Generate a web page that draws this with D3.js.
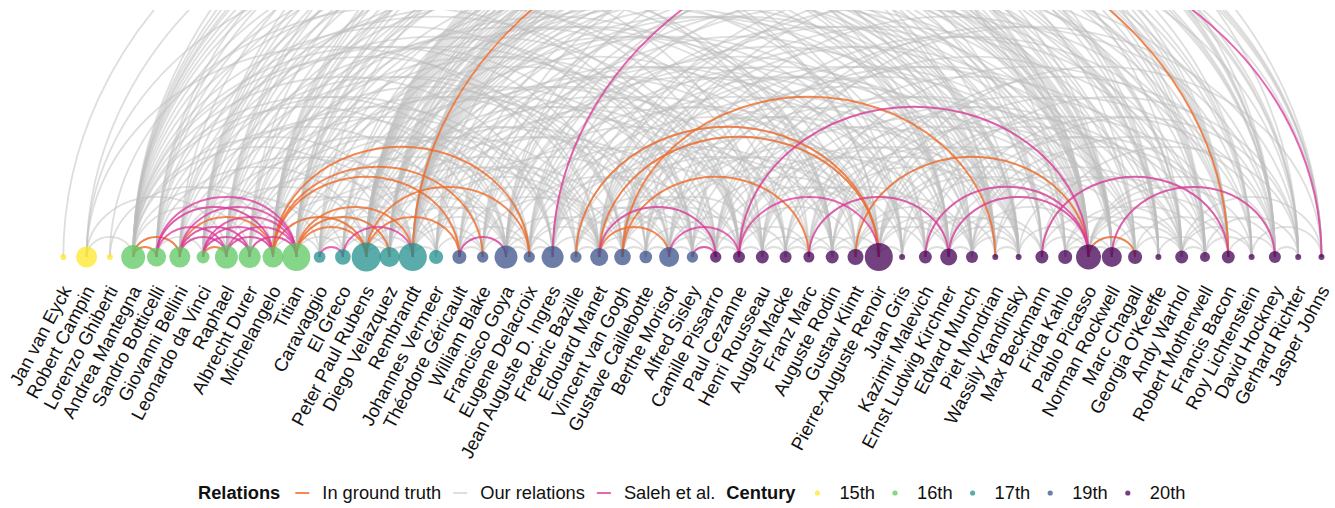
<!DOCTYPE html>
<html>
<head>
<meta charset="utf-8">
<script src="https://cdn.jsdelivr.net/npm/d3@7"></script>
<style>
body { margin: 0; background: #fff; }
text { font-family: "Liberation Sans", Arial, Helvetica, sans-serif; fill: #111; }
</style>
</head>
<body>
<svg id="chart" width="1335" height="508"></svg>
<script>
var artists = ["Jan van Eyck", "Robert Campin", "Lorenzo Ghiberti", "Andrea Mantegna", "Sandro Botticelli",
    "Giovanni Bellini", "Leonardo da Vinci", "Raphael", "Albrecht Durer", "Michelangelo", "Titian",
    "Caravaggio", "El Greco", "Peter Paul Rubens", "Diego Velazquez", "Rembrandt", "Johannes Vermeer",
    "Théodore Géricault", "William Blake", "Francisco Goya", "Eugene Delacroix", "Jean Auguste D. Ingres",
    "Frederic Bazille", "Edouard Manet", "Vincent van Gogh", "Gustave Caillebotte", "Berthe Morisot",
    "Alfred Sisley", "Camille Pissarro", "Paul Cezanne", "Henri Rousseau", "August Macke", "Franz Marc",
    "Auguste Rodin", "Gustav Klimt", "Pierre-Auguste Renoir", "Juan Gris", "Kazimir Malevich",
    "Ernst Ludwig Kirchner", "Edvard Munch", "Piet Mondrian", "Wassily Kandinsky", "Max Beckmann",
    "Frida Kahlo", "Pablo Picasso", "Norman Rockwell", "Marc Chagall", "Georgia O'Keeffe", "Andy Warhol",
    "Robert Motherwell", "Francis Bacon", "Roy Lichtenstein", "David Hockney", "Gerhard Richter", "Jasper Johns"];

var century = ["15th", "15th", "15th",
    "16th", "16th", "16th", "16th", "16th", "16th", "16th", "16th",
    "17th", "17th", "17th", "17th", "17th", "17th",
    "19th", "19th", "19th", "19th", "19th", "19th", "19th", "19th", "19th", "19th", "19th",
    "20th", "20th", "20th", "20th", "20th", "20th", "20th", "20th", "20th", "20th", "20th", "20th", "20th",
    "20th", "20th", "20th", "20th", "20th", "20th", "20th", "20th", "20th", "20th", "20th", "20th", "20th", "20th"];

var works = [9, 110, 9, 144, 90, 110, 42, 132, 121, 110, 196,
    34, 61, 210, 100, 196, 49,
    49, 32, 132, 32, 121, 32, 81, 69, 40, 100, 32,
    32, 36, 42, 36, 30, 42, 64, 196, 9, 42, 72, 36, 9, 9, 42,
    49, 156, 100, 49, 9, 42, 25, 42, 9, 36, 9, 9];

var centuries = ["15th", "16th", "17th", "19th", "20th"];
var centuryColors = ["#fde725", "#5dc863", "#21908c", "#3b528b", "#440154"];

var relationTypes = ["In ground truth", "Our relations", "Saleh et al."];
var relationColors = ["#ef6c2a", "#bdbdbd", "#dd3497"];

// pairs of indices into artists
var groundTruth = [[3, 4], [3, 5], [5, 9], [6, 7], [9, 13], [10, 13], [10, 15], [10, 14], [9, 17], [9, 18],
    [9, 20], [13, 17], [13, 20], [15, 50], [23, 26], [22, 35], [23, 35], [24, 40], [24, 32], [34, 44], [44, 46]];

var saleh = [[4, 10], [4, 9], [5, 10], [6, 10], [7, 10], [6, 9], [7, 9], [8, 10], [5, 8], [4, 7], [5, 7], [6, 8],
    [11, 12], [12, 15], [17, 19], [21, 54], [23, 28], [26, 29], [27, 28], [29, 44], [29, 35], [32, 38],
    [37, 44], [38, 44], [42, 50], [45, 52]];

var ourRelations = [[0, 43], [1, 3], [1, 7], [1, 40], [1, 30], [2, 9],
    [3, 5], [3, 8], [3, 10], [3, 14], [3, 15], [3, 19], [3, 21], [3, 23], [3, 24], [3, 26], [3, 29], [3, 35], [3, 44],
    [4, 6], [4, 9], [4, 13], [4, 20], [4, 28], [4, 35], [4, 44], [4, 48],
    [5, 7], [5, 8], [5, 11], [5, 15], [5, 23], [5, 30], [5, 46],
    [6, 8], [6, 13], [6, 16], [6, 21], [6, 27], [6, 33], [6, 44], [6, 50],
    [7, 9], [7, 12], [7, 15], [7, 19], [7, 21], [7, 29], [7, 38], [7, 45],
    [8, 10], [8, 14], [8, 18], [8, 24], [8, 31], [8, 39], [8, 52],
    [9, 11], [9, 13], [9, 15], [9, 21], [9, 25], [9, 33], [9, 44], [9, 47],
    [10, 12], [10, 14], [10, 17], [10, 22], [10, 29], [10, 36], [10, 42], [10, 49],
    [11, 13], [11, 14], [11, 15], [11, 16], [11, 19], [11, 23], [11, 34], [11, 50],
    [12, 14], [12, 19], [12, 29], [12, 37], [12, 41], [12, 44],
    [13, 14], [13, 15], [13, 16], [13, 19], [13, 22], [13, 23], [13, 26], [13, 28], [13, 30], [13, 35], [13, 38],
    [13, 43], [13, 46], [13, 51],
    [14, 15], [14, 19], [14, 23], [14, 29], [14, 32], [14, 44], [14, 50], [14, 54],
    [15, 16], [15, 18], [15, 19], [15, 20], [15, 23], [15, 24], [15, 27], [15, 31], [15, 34], [15, 39], [15, 42],
    [15, 45], [15, 48], [15, 52],
    [16, 18], [16, 23], [16, 26], [16, 35], [16, 45], [16, 53],
    [17, 18], [17, 19], [17, 20], [17, 23], [17, 28], [17, 36], [17, 47],
    [18, 20], [18, 24], [18, 31], [18, 40], [18, 51],
    [19, 20], [19, 21], [19, 23], [19, 27], [19, 34], [19, 39], [19, 44], [19, 50], [19, 54],
    [20, 21], [20, 23], [20, 24], [20, 28], [20, 35], [20, 41], [20, 49],
    [21, 23], [21, 26], [21, 30], [21, 35], [21, 37], [21, 44], [21, 53],
    [22, 23], [22, 26], [22, 27], [22, 28], [22, 35], [22, 40],
    [23, 24], [23, 25], [23, 27], [23, 28], [23, 29], [23, 33], [23, 35], [23, 39], [23, 44], [23, 48],
    [24, 25], [24, 28], [24, 29], [24, 30], [24, 34], [24, 38], [24, 39], [24, 43], [24, 47], [24, 51],
    [25, 26], [25, 28], [25, 35], [25, 42], [25, 52],
    [26, 27], [26, 28], [26, 30], [26, 35], [26, 41],
    [27, 28], [27, 29], [27, 35], [27, 46],
    [28, 29], [28, 31], [28, 35], [28, 38], [28, 44], [28, 50],
    [29, 30], [29, 32], [29, 34], [29, 36], [29, 40], [29, 44], [29, 45], [29, 49],
    [30, 31], [30, 32], [30, 37], [30, 44], [30, 48], [30, 53],
    [31, 32], [31, 33], [31, 38], [31, 41], [31, 46],
    [32, 33], [32, 34], [32, 38], [32, 41], [32, 43], [32, 51],
    [33, 34], [33, 35], [33, 39], [33, 44], [33, 49],
    [34, 35], [34, 37], [34, 38], [34, 39], [34, 44], [34, 52],
    [35, 36], [35, 38], [35, 39], [35, 43], [35, 44], [35, 46], [35, 48], [35, 51], [35, 54],
    [36, 40], [36, 44], [37, 38], [37, 41], [37, 44], [37, 49],
    [38, 39], [38, 41], [38, 42], [38, 44], [38, 46], [38, 50],
    [39, 41], [39, 42], [39, 44], [39, 50], [39, 53],
    [40, 41], [40, 48], [41, 44], [41, 49], [42, 44], [42, 46], [42, 50],
    [43, 44], [43, 45], [43, 47], [43, 48],
    [44, 45], [44, 46], [44, 48], [44, 49], [44, 50], [44, 51], [44, 52],
    [45, 46], [45, 48], [45, 52], [46, 48], [46, 50], [47, 49],
    [48, 49], [48, 51], [48, 52], [48, 54], [49, 51], [49, 53], [50, 52], [51, 54], [52, 53],
    [1, 22], [2, 27], [3, 18], [3, 32], [3, 40], [3, 47], [4, 17], [4, 25], [4, 39], [5, 19], [5, 27], [5, 36],
    [6, 24], [6, 38], [7, 24], [7, 33], [7, 49], [8, 20], [8, 28], [8, 44], [9, 29], [9, 38], [9, 52],
    [10, 20], [10, 27], [10, 33], [10, 44], [11, 27], [11, 40], [12, 25], [13, 33], [13, 40], [13, 48],
    [14, 26], [14, 36], [14, 41], [14, 47], [15, 29], [15, 33], [15, 37], [15, 44], [15, 49], [16, 31], [16, 40],
    [17, 33], [17, 41], [18, 36], [18, 45], [19, 30], [19, 38], [19, 46], [20, 31], [20, 38], [20, 45],
    [21, 32], [21, 40], [21, 48], [22, 33], [22, 45], [23, 37], [23, 41], [23, 50], [24, 36], [24, 45],
    [25, 33], [25, 44], [26, 37], [26, 44], [26, 50], [27, 40], [27, 49], [28, 41], [28, 47], [29, 39],
    [29, 52], [30, 41], [31, 44], [32, 47], [33, 46], [34, 48], [36, 50], [37, 53], [38, 52], [39, 48],
    [40, 52], [42, 53],
    [13, 41], [13, 44], [13, 45], [13, 47], [13, 49], [13, 50], [13, 52], [13, 53], [13, 54],
    [15, 40], [15, 41], [15, 43], [15, 46], [15, 47], [15, 51], [15, 53], [15, 54],
    [14, 42], [14, 45], [14, 48], [14, 52],
    [3, 38], [3, 42], [3, 45], [3, 49], [3, 52],
    [9, 40], [9, 45], [9, 50], [9, 54],
    [10, 38], [10, 45], [10, 51],
    [6, 41], [6, 47], [6, 53],
    [7, 42], [7, 52]];

var BASE_Y = 257;
var TOP_Y = 10;
var ARC_RATIO = 0.86;
var LABEL_Y = 284;
var LABEL_ANGLE = -62;
var LEGEND_Y = 493;

var svg = d3.select("#chart");

var x = d3.scalePoint().domain(artists).range([63.3, 1321.5]);
var r = d3.scaleSqrt().domain([0, 210]).range([0, 14.5]);
var color = d3.scaleOrdinal().domain(centuries).range(centuryColors);
var edgeColor = d3.scaleOrdinal().domain(relationTypes).range(relationColors);
var edgeOpacity = {"In ground truth": 0.8, "Our relations": 0.5, "Saleh et al.": 0.75};

svg.append("defs").append("clipPath").attr("id", "panel")
    .append("rect")
    .attr("x", 0).attr("y", TOP_Y)
    .attr("width", 1335).attr("height", BASE_Y + 30 - TOP_Y);

function arcPath(e) {
    var x1 = x(artists[e[0]]), x2 = x(artists[e[1]]);
    var a = (x2 - x1) / 2;
    return "M" + x1 + "," + BASE_Y + "A" + a + "," + (a * ARC_RATIO) + " 0 0,1 " + x2 + "," + BASE_Y;
}

var edgeLayer = svg.append("g").attr("clip-path", "url(#panel)");

function drawEdges(list, type) {
    edgeLayer.append("g")
        .selectAll("path")
        .data(list)
        .enter().append("path")
        .attr("d", arcPath)
        .attr("fill", "none")
        .attr("stroke", edgeColor(type))
        .attr("stroke-opacity", edgeOpacity[type])
        .attr("stroke-width", type == "Our relations" ? 1.8 : 2);
}

drawEdges(ourRelations, "Our relations");
drawEdges(groundTruth, "In ground truth");
drawEdges(saleh, "Saleh et al.");

// nodes
svg.append("g")
    .selectAll("circle")
    .data(artists)
    .enter().append("circle")
    .attr("cx", function(d) { return x(d); })
    .attr("cy", BASE_Y)
    .attr("r", function(d, i) { return r(works[i]); })
    .attr("fill", function(d, i) { return color(century[i]); })
    .attr("fill-opacity", 0.75);

// rotated names
svg.append("g")
    .selectAll("text")
    .data(artists)
    .enter().append("text")
    .attr("transform", function(d) {
        return "translate(" + (x(d) - 3) + "," + LABEL_Y + ") rotate(" + LABEL_ANGLE + ")";
    })
    .attr("text-anchor", "end")
    .attr("dy", "0.71em")
    .style("font-size", "18.5px")
    .text(function(d) { return d; });

// legend
var legend = svg.append("g").attr("transform", "translate(198," + LEGEND_Y + ")");
var cursor = 0;

function legendText(str, bold) {
    var t = legend.append("text")
        .attr("x", cursor)
        .attr("dy", "0.35em")
        .style("font-size", "18.3px")
        .style("font-weight", bold ? "bold" : "normal")
        .text(str);
    cursor += t.node().getComputedTextLength();
}

legendText("Relations", true);
relationTypes.forEach(function(type, i) {
    cursor += (i == 0 ? 15 : 12);
    legend.append("line")
        .attr("x1", cursor).attr("x2", cursor + 14)
        .attr("y1", 0).attr("y2", 0)
        .attr("stroke", edgeColor(type))
        .attr("stroke-opacity", edgeOpacity[type])
        .attr("stroke-width", 2);
    cursor += 14 + 13;
    legendText(type, false);
});

cursor += 11;
legendText("Century", true);
centuries.forEach(function(c, i) {
    cursor += (i == 0 ? 22 : 20);
    legend.append("circle")
        .attr("cx", cursor).attr("cy", 0)
        .attr("r", 2.6)
        .attr("fill", color(c))
        .attr("fill-opacity", 0.75);
    cursor += 22;
    legendText(c, false);
});
</script>
</body>
</html>
